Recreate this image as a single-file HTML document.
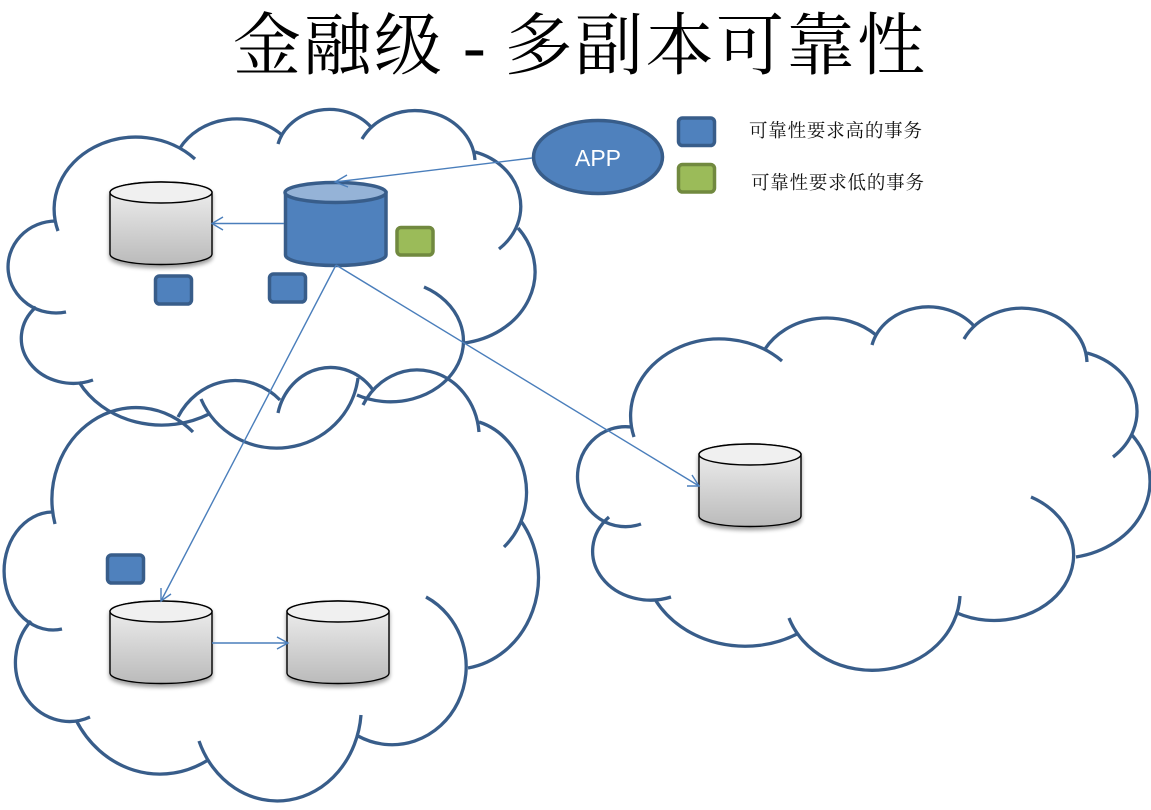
<!DOCTYPE html>
<html>
<head>
<meta charset="utf-8">
<style>
html,body{margin:0;padding:0;background:#fff;}
svg{display:block;}
</style>
</head>
<body>
<svg width="1151" height="810" viewBox="0 0 1151 810" xmlns="http://www.w3.org/2000/svg">
<defs>
<linearGradient id="g" x1="0" y1="0" x2="0" y2="1">
<stop offset="0" stop-color="#f2f2f2"/>
<stop offset="1" stop-color="#bababa"/>
</linearGradient>
<filter id="s" x="-20%" y="-20%" width="140%" height="140%">
<feGaussianBlur in="SourceAlpha" stdDeviation="2"/>
<feOffset dy="3"/>
<feComponentTransfer><feFuncA type="linear" slope="0.4"/></feComponentTransfer>
<feMerge><feMergeNode/><feMergeNode in="SourceGraphic"/></feMerge>
</filter>
<g id="cyl" filter="url(#s)">
<path d="M0,10.500 A51,10.500 0 0 1 102,10.500 V72 C102,78 80,82.500 51,82.500 C22,82.500 0,78 0,72 Z" fill="url(#g)" stroke="#000" stroke-width="1.400"/>
<ellipse cx="51" cy="10.500" rx="51" ry="10.500" fill="#f0f0f0" stroke="#000" stroke-width="1.400"/>
</g>
</defs>

<text font-family="'Liberation Serif','Noto Serif CJK SC',serif" font-size="68" letter-spacing="2.500" fill="#000"><tspan x="233" y="69">金融级</tspan><tspan x="463" y="69">-</tspan><tspan x="504.500" y="69">多副本可靠性</tspan></text>

<g fill="none" stroke="#385d8a" stroke-width="3.300">
<!-- cloud 1 -->
<path d="M58,231 A82,72 0 0 1 195,159"/>
<path d="M180,148 A65,57 0 0 1 282,135"/>
<path d="M278,144 A53,46 0 0 1 371,127"/>
<path d="M362,139 A60,53 0 0 1 475,160"/>
<path d="M475,152 A65,57 0 0 1 499,249"/>
<path d="M518,228 A83,72 0 0 1 464,343"/>
<path d="M424,287 A72,60 0 1 1 357,395"/>
<path d="M358,378 A82,80 0 0 1 201,399"/>
<path d="M209,414 A94,82 0 0 1 79,382"/>
<path d="M93,380 A52,45 0 0 1 36,307"/>
<path d="M66,312 A48,46 0 1 1 56,221"/>
<!-- cloud 2 -->
<path d="M55,524 A84,92 0 0 1 193,432"/>
<path d="M178,417 A66,73 0 0 1 280,400"/>
<path d="M278,413 A54,59 0 0 1 373,390"/>
<path d="M363,405 A62,68 0 0 1 479,432"/>
<path d="M479,422 A66,73 0 0 1 504,547"/>
<path d="M521,521 A84,92 0 0 1 468,668"/>
<path d="M426,597 A73,77 0 1 1 358,736"/>
<path d="M361,715 A84,94 0 0 1 199,741"/>
<path d="M208,760 A96,105 0 0 1 76,720"/>
<path d="M90,717 A54,59 0 0 1 31,621"/>
<path d="M62,629 A49,59 0 1 1 52,512"/>
<!-- cloud 3 -->
<path d="M634,437 A89,77 0 0 1 782,361"/>
<path d="M765,349 A71,61 0 0 1 876,335"/>
<path d="M872,345 A58,50 0 0 1 974,326"/>
<path d="M964,339 A65,56 0 0 1 1087,362"/>
<path d="M1087,353 A71,61 0 0 1 1113,457"/>
<path d="M1132,435 A90,77 0 0 1 1076,557"/>
<path d="M1031,497 A79,65 0 1 1 957,613"/>
<path d="M960,596 A88,78 0 0 1 789,618"/>
<path d="M797,634 A102,88 0 0 1 656,601"/>
<path d="M671,597 A58,49 0 0 1 609,517"/>
<path d="M641,524 A48,50 0 1 1 631,427"/>
</g>

<use href="#cyl" x="110" y="182"/>
<use href="#cyl" x="110" y="601"/>
<use href="#cyl" x="287" y="601"/>
<use href="#cyl" x="699" y="444"/>

<!-- blue cylinder -->
<path d="M285.500,192.500 V255 C285.500,261 308,265.500 335.500,265.500 C363,265.500 386,261 386,255 V192.500 Z" fill="#4f81bd" stroke="#385d8a" stroke-width="3.500"/>
<ellipse cx="335.500" cy="192.500" rx="50.500" ry="10" fill="#95b3d7" stroke="#385d8a" stroke-width="3.500"/>

<g stroke="#385d8a" stroke-width="3.500" fill="#4f81bd">
<rect x="155.500" y="276" width="36" height="28" rx="4"/>
<rect x="269.500" y="274" width="36" height="28" rx="4"/>
<rect x="107.500" y="555" width="36" height="28" rx="4"/>
<rect x="678.500" y="118" width="36" height="27.500" rx="4"/>
<ellipse cx="598" cy="157" rx="64.500" ry="36.500"/>
</g>
<g stroke="#71893f" stroke-width="3.500" fill="#9bbb59">
<rect x="397" y="227.500" width="36" height="27.500" rx="4"/>
<rect x="678.500" y="164.500" width="36" height="27.500" rx="4"/>
</g>

<text x="598" y="166" text-anchor="middle" font-family="'Liberation Sans',sans-serif" font-size="23" fill="#fff">APP</text>

<g font-family="'Liberation Serif','Noto Serif CJK SC',serif" font-size="18.500" fill="#111">
<text x="749" y="137" textLength="173">可靠性要求高的事务</text>
<text x="751" y="189" textLength="173">可靠性要求低的事务</text>
</g>

<g fill="none" stroke="#4a7ebb" stroke-width="1.400">
<path d="M532,158 L335,182"/>
<path d="M347,175 L335,182 L348,187"/>
<path d="M284,223.500 H212"/>
<path d="M223,217 L212,223.500 L223,230"/>
<path d="M336,265 L161,601"/>
<path d="M161,588 L161,601 L171,594"/>
<path d="M336,265 L699,486"/>
<path d="M692,475 L699,486 L687,486"/>
<path d="M212,643 H288"/>
<path d="M277,637 L288,643 L277,649"/>
</g>
</svg>
</body>
</html>
